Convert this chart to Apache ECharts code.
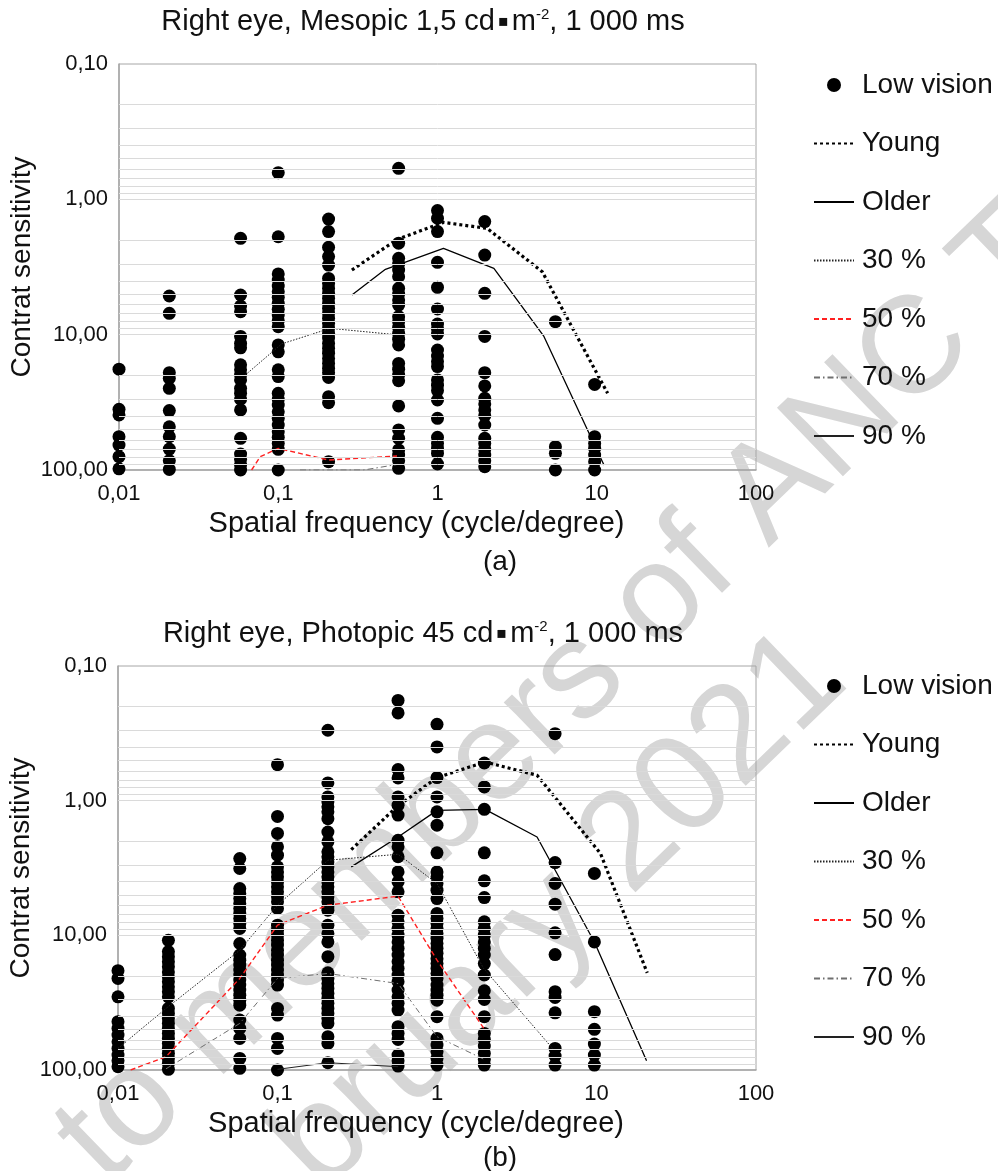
<!DOCTYPE html>
<html><head><meta charset="utf-8">
<script src="https://cdn.jsdelivr.net/npm/echarts@6/dist/echarts.min.js"></script>
<style>html,body{margin:0;padding:0;background:#fff}#c{width:998px;height:1171px}</style>
</head><body><div id="c"></div>
<script>
// ---------- data ----------
const freqs = [0.01, 0.0207, 0.058, 0.1, 0.207, 0.57, 1, 1.98, 5.5, 9.7];
const xTickLabels = ['0,01', '0,1', '1', '10', '100'];
const yTickLabels = ['0,10', '1,00', '10,00', '100,00'];
const seriesNames = ['Low vision', 'Young', 'Older', '30 %', '50 %', '70 %', '90 %'];
const watermarkLines = ['to members of ANC T', 'bruary 2021'];

// Panel (a) Mesopic – low vision contrast thresholds per frequency column
const lowVisionMesopic = [
  [18.0, 35.6, 39.2, 56.7, 65.4, 79.7, 98],
  [5.18, 6.96, 19.1, 21.0, 24.9, 36.4, 47.9, 56.7, 70.0, 85.3, 99],
  [1.94, 5.09, 6.14, 6.76, 10.3, 11.6, 12.5, 16.7, 18.2, 19.9, 21.6, 24.9, 27.1, 30.0, 36.0, 58.3, 76.2, 83.4, 91.8, 100],
  [0.635, 1.89, 3.56, 3.95, 4.37, 4.81, 5.30, 5.86, 6.50, 7.16, 7.88, 8.73, 11.9, 13.4, 18.2, 20.4, 27.1, 30.0, 33.1, 37.1, 41.5, 46.5, 52.1, 57.4, 63.6, 70.4, 100],
  [1.40, 1.73, 2.26, 2.65, 3.06, 3.84, 4.18, 4.55, 4.95, 5.39, 5.86, 6.39, 6.96, 7.57, 8.24, 8.98, 9.78, 10.6, 11.6, 12.6, 13.7, 15.0, 16.3, 17.7, 19.1, 20.7, 28.7, 31.8, 86.8],
  [0.590, 2.11, 2.73, 3.01, 3.33, 3.73, 4.55, 5.01, 5.54, 6.04, 7.36, 8.02, 8.83, 9.78, 10.8, 11.9, 16.3, 18.0, 19.9, 21.9, 33.6, 50.6, 58.3, 71.1, 77.5, 85.3, 97.2],
  [1.21, 1.38, 1.73, 2.92, 4.47, 6.46, 8.34, 9.08, 9.89, 13.0, 14.4, 15.8, 17.2, 21.6, 23.6, 25.9, 30.4, 41.5, 57.4, 63.6, 69.2, 75.3, 90.3],
  [1.46, 2.58, 4.95, 10.3, 19.1, 23.9, 29.5, 32.5, 36.0, 39.7, 46.5, 58.3, 63.6, 70.4, 77.5, 85.3, 94.5],
  [8.02, 67.2, 75.3, 100],
  [23.3, 56.7, 63.6, 69.2, 77.5, 86.8, 100]
];
const youngMesopic = [[0.29, 3.33], [0.557, 1.98], [1.09, 1.48], [2.05, 1.64], [4.55, 3.43], [11.7, 27.1]];
const olderMesopic = [[0.29, 5.09], [0.471, 3.29], [1.09, 2.30], [2.26, 3.24], [4.66, 10.3], [9.16, 56.7], [11.1, 91.8]];
const p30Mesopic = [[0.062, 19.9], [0.105, 11.7], [0.212, 8.98], [0.571, 10.05]];
const p50Mesopic = [[0.068, 100], [0.077, 79.7], [0.1, 69.2], [0.207, 84.4], [0.557, 78.8]];
const p70Mesopic = [[0.137, 100], [0.344, 100], [0.56, 91]];
const p90Mesopic = [];

// Panel (b) Photopic
const lowVisionPhotopic = [
  [18.3, 20.9, 28.6, 43.8, 49.1, 55.0, 61.7, 69.1, 77.4, 85.3, 94.4],
  [10.9, 13.2, 14.4, 15.7, 17.1, 18.7, 20.3, 22.1, 24.1, 26.2, 28.6, 34.9, 38.0, 41.4, 45.1, 49.1, 53.5, 58.3, 63.5, 69.1, 75.3, 82.0, 89.3, 98.9],
  [2.69, 3.19, 4.49, 4.89, 5.33, 5.80, 6.32, 6.88, 7.50, 8.17, 8.90, 11.5, 14.0, 15.3, 16.6, 18.1, 19.7, 21.5, 23.4, 25.5, 27.8, 30.3, 33.0, 42.6, 49.1, 58.3, 82.0, 97.2],
  [0.540, 1.31, 1.75, 2.20, 2.54, 3.10, 3.38, 3.68, 4.01, 4.36, 4.75, 5.18, 5.64, 6.32, 8.40, 9.15, 9.97, 10.9, 11.8, 12.9, 14.0, 15.3, 16.6, 18.1, 19.7, 21.5, 23.4, 34.9, 39.1, 58.3, 69.1, 100],
  [0.300, 0.738, 0.938, 1.02, 1.11, 1.21, 1.36, 1.71, 2.02, 2.40, 2.61, 2.85, 3.10, 3.38, 3.68, 4.01, 4.36, 4.75, 5.18, 5.64, 6.14, 6.50, 8.40, 9.69, 11.2, 14.4, 19.0, 20.9, 22.8, 24.8, 27.0, 29.4, 32.0, 34.9, 38.0, 41.4, 45.1, 56.6, 63.5, 88.3],
  [0.180, 0.223, 0.588, 0.678, 0.938, 1.08, 1.28, 1.97, 2.20, 2.61, 3.38, 4.01, 4.75, 7.08, 7.94, 8.90, 9.97, 11.2, 12.5, 14.0, 15.7, 17.6, 19.7, 22.1, 25.5, 28.6, 32.0, 35.9, 47.7, 53.5, 59.3, 77.4, 85.3, 93.5],
  [0.271, 0.399, 0.674, 0.938, 1.21, 1.52, 2.44, 3.38, 3.68, 4.12, 4.62, 5.33, 6.88, 7.50, 8.17, 8.90, 9.69, 10.5, 11.5, 12.5, 13.6, 14.9, 16.2, 17.6, 19.2, 20.9, 23.4, 25.5, 27.8, 30.3, 40.2, 58.3, 65.3, 73.1, 82.0, 91.9],
  [0.525, 0.791, 1.16, 2.44, 3.94, 5.24, 7.94, 8.90, 9.97, 11.2, 12.5, 14.0, 16.2, 19.7, 25.8, 29.9, 40.2, 53.5, 59.3, 66.4, 75.3, 83.4, 91.9],
  [0.318, 2.88, 4.12, 5.87, 9.58, 13.9, 26.2, 28.9, 37.6, 69.1, 78.7, 91.9],
  [3.47, 11.2, 36.9, 49.9, 64.2, 77.4, 91.9]
];
const youngPhotopic = [[0.29, 2.31], [0.56, 1.11], [1.0, 0.674], [2.0, 0.516], [4.24, 0.647], [10.6, 2.47], [20.8, 19.0]];
const olderPhotopic = [[0.29, 3.10], [0.57, 1.86], [1.0, 1.18], [2.0, 1.16], [4.24, 1.86], [9.7, 11.2], [20.6, 85.3]];
const p30Photopic = [[0.01, 69.1], [0.02, 34.9], [0.058, 12.9], [0.1, 5.97], [0.207, 2.77], [0.57, 2.50], [1.0, 4.12], [1.96, 17.6], [5.3, 69.1]];
const p50Photopic = [[0.012, 100], [0.02, 79.7], [0.058, 20.9], [0.1, 8.40], [0.207, 5.97], [0.57, 5.12], [1.0, 15.3], [2.0, 50.5]];
const p70Photopic = [[0.02, 98], [0.058, 45.1], [0.1, 20.9], [0.207, 19.2], [0.57, 22.8], [1.0, 56.6], [2.0, 84]];
const p90Photopic = [[0.1, 98.9], [0.207, 88.3], [0.57, 94.5]];

// ---------- chart ----------
const FONT = "'Liberation Sans', Arial, Helvetica, sans-serif";
const gridLineValues = [];
[0.1, 1, 10].forEach(d => { for (let m = 2; m <= 10; m++) { if (!(d === 10 && m === 10)) gridLineValues.push(+(m * d).toPrecision(3)); } });

function xAxisCfg(gi) {
  return {
    type: 'log', logBase: 10, min: 0.01, max: 100, gridIndex: gi,
    name: 'Spatial frequency (cycle/degree)', nameLocation: 'middle', nameGap: 39,
    nameTextStyle: { fontSize: 29, fontFamily: FONT, color: '#111', padding: [0, 42, 0, 0] },
    axisLine: { show: true, lineStyle: { color: '#a6a6a6', width: 1.5 } },
    axisTick: { show: false }, splitLine: { show: false },
    axisLabel: { fontSize: 22, fontFamily: FONT, color: '#111', margin: 13,
      formatter: v => xTickLabels[Math.round(Math.log10(v)) + 2] }
  };
}
function yAxisCfg(gi) {
  return {
    type: 'log', logBase: 10, min: 0.1, max: 100, inverse: true, gridIndex: gi,
    name: 'Contrat sensitivity', nameLocation: 'middle', nameGap: 83, nameRotate: 90,
    nameMoveOverlap: false,
    nameTextStyle: { fontSize: 28, fontFamily: FONT, color: '#111' },
    axisLine: { show: true, lineStyle: { color: '#a6a6a6', width: 1.5 } },
    axisTick: { show: false }, splitLine: { show: false },
    axisLabel: { fontSize: 22, fontFamily: FONT, color: '#111', margin: 11,
      formatter: v => yTickLabels[Math.round(Math.log10(v)) + 1] }
  };
}
function lineSeries(name, data, gi, style) {
  return { name, type: 'line', data, xAxisIndex: gi, yAxisIndex: gi, symbol: 'none', showSymbol: false,
    clip: true, z: 3, lineStyle: style, itemStyle: { color: style.color }, animation: false };
}
function panel(gi, lv, young, older, p30, p50, p70, p90) {
  const pts = [];
  lv.forEach((col, k) => col.forEach(v => pts.push([freqs[k], v])));
  return [
    { type: 'line', data: [], xAxisIndex: gi, yAxisIndex: gi, z: 0, silent: true, animation: false,
      markLine: { silent: true, symbol: ['none', 'none'], label: { show: false }, animation: false,
        lineStyle: { color: '#dadada', width: 1, type: 'solid' },
        data: gridLineValues.map(v => ({ yAxis: v })) } },
    { name: 'Low vision', type: 'scatter', data: pts, xAxisIndex: gi, yAxisIndex: gi, symbol: 'circle',
      symbolSize: 13, itemStyle: { color: '#000', opacity: 1 }, z: 2, animation: false },
    lineSeries('Young', young, gi, { color: '#000', width: 3.2, type: [3, 3] }),
    lineSeries('Older', older, gi, { color: '#000', width: 1.3, type: 'solid' }),
    lineSeries('30 %', p30, gi, { color: '#222', width: 1, type: [1.5, 1.5] }),
    lineSeries('50 %', p50, gi, { color: '#ff2020', width: 1.4, type: [5, 3] }),
    lineSeries('70 %', p70, gi, { color: '#6f6f6f', width: 1, type: [6, 3, 1.5, 3] }),
    lineSeries('90 %', p90, gi, { color: '#222', width: 1, type: 'solid' })
  ];
}
function legendCfg(top) {
  return { data: seriesNames.map(n => n === 'Low vision'
      ? { name: n, icon: 'circle', itemStyle: { opacity: 1 } }
      : { name: n, itemStyle: { opacity: 0 } }),
    orient: 'vertical', left: 808, top, itemWidth: 40, itemHeight: 14, itemGap: 30.5,
    textStyle: { fontSize: 28, fontFamily: FONT, color: '#111', padding: [0, 0, 0, 3] },
    selectedMode: false };
}
function titleText(y, prefix) {
  return { type: 'text', x: 423, y, z: 10,
    style: { text: '{t|' + prefix + ' cd}{d|▪}{t|m}{s|-2}{t|, 1 000 ms}',
      textAlign: 'center', textVerticalAlign: 'middle', align: 'center', verticalAlign: 'middle',
      rich: {
        t: { fontSize: 29, fontFamily: FONT, fill: '#111' },
        d: { fontSize: 16, fontFamily: "'DejaVu Sans', sans-serif", fill: '#111', padding: [0, 3, 0, 3] },
        s: { fontSize: 15, fontFamily: FONT, fill: '#111', verticalAlign: 'top' }
      } } };
}
function plainText(x, y, text) {
  return { type: 'text', x, y, z: 10, style: { text, fontSize: 28, fontFamily: FONT, fill: '#111',
    textAlign: 'center', textVerticalAlign: 'middle', align: 'center', verticalAlign: 'middle' } };
}
function watermark(x, y, text) {
  return { type: 'text', x, y, rotation: 44 * Math.PI / 180, z: -1, silent: true,
    style: { text, fontSize: 138, fontFamily: FONT, fill: '#d6d6d6',
      textAlign: 'left', textVerticalAlign: 'middle', align: 'left', verticalAlign: 'middle' } };
}

const chart = echarts.init(document.getElementById('c'), null, { renderer: 'canvas' });
chart.setOption({
  backgroundColor: '#fff',
  animation: false,
  grid: [
    { left: 119, top: 64, width: 637, height: 406, show: true, borderColor: '#a6a6a6', borderWidth: 1,
      backgroundColor: 'transparent', containLabel: false, outerBoundsMode: 'none' },
    { left: 118, top: 666, width: 638, height: 404, show: true, borderColor: '#a6a6a6', borderWidth: 1,
      backgroundColor: 'transparent', containLabel: false, outerBoundsMode: 'none' }
  ],
  xAxis: [xAxisCfg(0), xAxisCfg(1)],
  yAxis: [yAxisCfg(0), yAxisCfg(1)],
  legend: [legendCfg(66), legendCfg(667)],
  graphic: [
    watermark(80, 1160, watermarkLines[0]),
    watermark(295, 1168, watermarkLines[1]),
    titleText(22, 'Right eye, Mesopic 1,5'),
    titleText(634, 'Right eye, Photopic 45'),
    plainText(500, 562, '(a)'),
    plainText(500, 1158, '(b)')
  ],
  series: [
    ...panel(0, lowVisionMesopic, youngMesopic, olderMesopic, p30Mesopic, p50Mesopic, p70Mesopic, p90Mesopic),
    ...panel(1, lowVisionPhotopic, youngPhotopic, olderPhotopic, p30Photopic, p50Photopic, p70Photopic, p90Photopic)
  ]
});
</script></body></html>
